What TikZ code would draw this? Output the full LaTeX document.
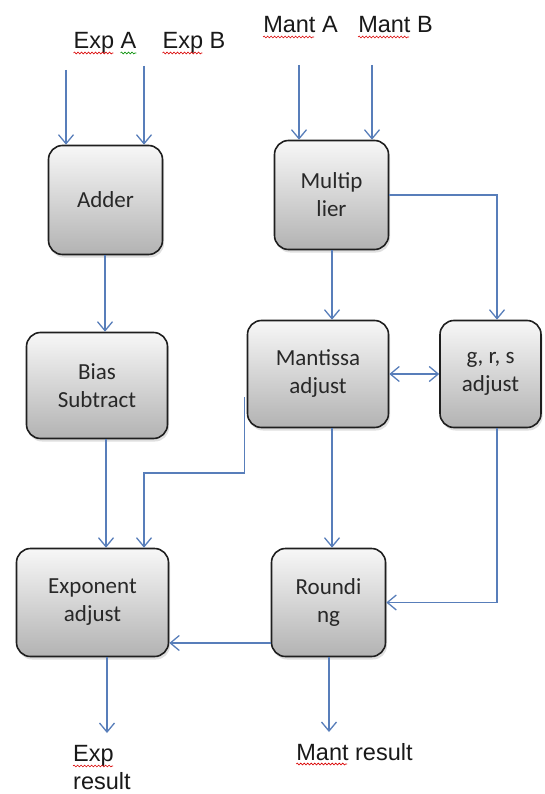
\documentclass[tikz,border=0pt]{standalone}
\usepackage{fontspec}
\setmainfont{Liberation Sans}
\newfontfamily\boxfont{Carlito}
\usetikzlibrary{arrows.meta,shadows,decorations.pathmorphing,calc}
\definecolor{arrowc}{RGB}{88,126,186}
\definecolor{boxtxt}{RGB}{40,40,40}
\begin{document}
\begin{tikzpicture}[x=1pt,y=-1pt,
  blk/.style={draw=black!88, line width=1.6pt, rounded corners=14pt,
    top color=white!97!black, bottom color=black!30,
    inner sep=0pt, align=center, text=boxtxt,
    font=\boxfont\fontsize{23}{28}\selectfont,
    drop shadow={shadow xshift=1.5pt, shadow yshift=-3pt, opacity=0.25}},
  lbl/.style={inner sep=0pt, text=black!90, font=\fontsize{23.5}{28}\selectfont},
  conn/.style={draw=arrowc, line width=1.3pt, -{Straight Barb[length=9pt,width=15pt]}},
  dconn/.style={draw=arrowc, line width=1.3pt, {Straight Barb[length=9pt,width=15pt]}-{Straight Barb[length=9pt,width=15pt]}},
  squig/.style={draw=red!85!black, line width=0.6pt, decorate, decoration={snake, amplitude=0.9pt, segment length=3.5pt}},
  gsquig/.style={squig, draw=green!55!black}]
\useasboundingbox (0,0) rectangle (544,794);

% boxes
\node[blk, minimum width=114pt, minimum height=109pt] (adder) at (105.5,200) {Adder};
\node[blk, minimum width=114pt, minimum height=109pt] (mult) at (331.5,195) {Multip\\lier};
\node[blk, minimum width=141pt, minimum height=106pt] (bias) at (97,385.5) {Bias\\Subtract};
\node[blk, minimum width=141pt, minimum height=107pt] (mant) at (318,374) {Mantissa\\adjust};
\node[blk, minimum width=101pt, minimum height=107pt] (grs) at (490.5,374) {g, r, s\\adjust};
\node[blk, minimum width=152pt, minimum height=108pt] (expadj) at (92.5,602.5) {Exponent\\adjust};
\node[blk, minimum width=114pt, minimum height=108pt] (rnd) at (328.5,602.5) {Roundi\\ng};

% labels
\node[lbl, anchor=base] (expA) at (105,49) {Exp A};
\node[lbl, anchor=base] (expB) at (194,49) {Exp B};
\node[lbl, anchor=base] (mantA) at (300.5,33) {Mant A};
\node[lbl, anchor=base] (mantB) at (395.5,33) {Mant B};
\node[lbl, anchor=north west, align=left] (eres) at (73,745) {Exp\\result};
\node[lbl, anchor=base] (mres) at (354.5,760) {Mant result};

% spell-check squiggles
\draw[squig] ($(expA.base west)+(0,4)$) -- ++(40,0);
\draw[gsquig] ($(expA.base west)+(47,4)$) -- ++(16,0);
\draw[squig] ($(expB.base west)+(0,4)$) -- ++(40,0);
\draw[squig] ($(mantA.base west)+(0,4)$) -- ++(51,0);
\draw[squig] ($(mantB.base west)+(0,4)$) -- ++(51,0);
\draw[squig] ($(eres.north west)+(0,21)$) -- ++(40,0);
\draw[squig] ($(mres.base west)+(0,4)$) -- ++(51,0);

% free ends and guide positions
\coordinate (ea) at (66,70);
\coordinate (eb) at (144,66);
\coordinate (ma) at (299,65);
\coordinate (mb) at (372,65);
\coordinate (xs) at (105,0);
\coordinate (xa) at (106,0);
\coordinate (xb) at (332,0);
\coordinate (xc) at (497,0);
\coordinate (yd) at (0,643);
\coordinate (m2) at (144,473);
\coordinate (eo) at (107,733);
\coordinate (mo) at (329,732);

% connectors
\draw[conn] (ea) -- (ea |- adder.north);
\draw[conn] (eb) -- (eb |- adder.north);
\draw[conn] (ma) -- (ma |- mult.north);
\draw[conn] (mb) -- (mb |- mult.north);
\draw[conn] (adder.south -| xs) -- (bias.north -| xs);
\draw[conn] (mult.south -| xb) -- (mant.north -| xb);
\draw[conn] (mult.east) -| (xc |- grs.north);
\draw[dconn] (mant.east) -- (grs.west);
\draw[conn] (bias.south -| xa) -- (expadj.north -| xa);
\draw[conn] ($(mant.west)+(-2,23)$) |- (m2) -- (m2 |- expadj.north);
\draw[conn] (mant.south -| xb) -- (rnd.north -| xb);
\draw[conn] (grs.south -| xc) |- (rnd.east);
\draw[conn] (rnd.west |- yd) -- (expadj.east |- yd);
\draw[conn] (expadj.south -| eo) -- (eo);
\draw[conn] (rnd.south -| mo) -- (mo);
\end{tikzpicture}
\end{document}
